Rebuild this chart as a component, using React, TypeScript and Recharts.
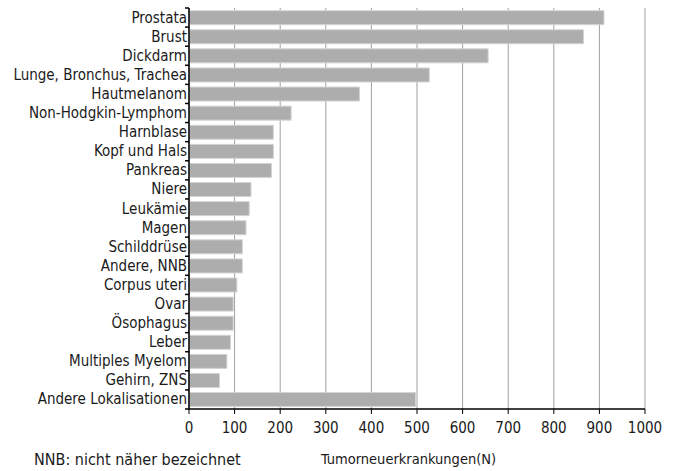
import React from 'react';
import { BarChart, Bar, XAxis, YAxis, CartesianGrid } from 'recharts';

const sites: string[] = [
  'Prostata',
  'Brust',
  'Dickdarm',
  'Lunge, Bronchus, Trachea',
  'Hautmelanom',
  'Non-Hodgkin-Lymphom',
  'Harnblase',
  'Kopf und Hals',
  'Pankreas',
  'Niere',
  'Leukämie',
  'Magen',
  'Schilddrüse',
  'Andere, NNB',
  'Corpus uteri',
  'Ovar',
  'Ösophagus',
  'Leber',
  'Multiples Myelom',
  'Gehirn, ZNS',
  'Andere Lokalisationen',
];

const cases: number[] = [
  910, 865, 656, 527, 374, 224, 185, 185, 181, 136, 132,
  125, 117, 117, 105, 97, 97, 91, 83, 67, 497,
];

const xTicks: number[] = [0, 100, 200, 300, 400, 500, 600, 700, 800, 900, 1000];

const data = sites.map((name, i) => ({ name, value: cases[i] }));

const W = 673;
const H = 471;
const M = { top: 8, right: 28, bottom: 36, left: 0 };
const X_AXIS_H = 26;
const Y_AXIS_W = 189;
const FONT = '"DejaVu Sans Condensed", "Open Sans", sans-serif';

const plotH = H - M.top - M.bottom - X_AXIS_H;
const band = plotH / sites.length;

// label at band centre, tick mark at the lower band edge
const CategoryTick: React.FC<any> = ({ x, y, payload }) => {
  return (
    <g>
      <text x={x - 2} y={y} dy={5} textAnchor="end" fontSize={15} fill="#1a1a1a" fontFamily={FONT}>
        {payload.value}
      </text>
      <line x1={x - 4} x2={x} y1={y + band / 2} y2={y + band / 2} stroke="#000" strokeWidth={1.5} />
      {payload.index === 0 && (
        <line x1={x - 4} x2={x} y1={y - band / 2} y2={y - band / 2} stroke="#000" strokeWidth={1.5} />
      )}
    </g>
  );
};

const App: React.FC = () => {
  return (
    <div style={{ position: 'absolute', left: 0, top: 0, width: W, height: H, background: '#fff' }}>
      <BarChart
        width={W}
        height={H}
        data={data}
        layout="vertical"
        margin={M}
        barCategoryGap="14%"
      >
        <CartesianGrid horizontal={false} stroke="#a0a0a0" strokeWidth={1} />
        <XAxis
          type="number"
          domain={[0, 1000]}
          ticks={xTicks}
          interval={0}
          height={X_AXIS_H}
          axisLine={{ stroke: '#000', strokeWidth: 1.5 }}
          tickLine={{ stroke: '#000', strokeWidth: 1 }}
          tickSize={5}
          tickMargin={8}
          tick={{ fontSize: 15, fill: '#1a1a1a', fontFamily: FONT }}
        />
        <YAxis
          type="category"
          dataKey="name"
          width={Y_AXIS_W}
          interval={0}
          tickLine={false}
          tickSize={0}
          tickMargin={0}
          axisLine={{ stroke: '#000', strokeWidth: 1.5 }}
          tick={<CategoryTick />}
        />
        <Bar dataKey="value" fill="#adadae" stroke="#d4d4d4" strokeWidth={1} isAnimationActive={false} />
      </BarChart>
      <div
        style={{
          position: 'absolute',
          left: 34,
          top: 450,
          fontFamily: FONT,
          fontSize: 16,
          color: '#1a1a1a',
          whiteSpace: 'nowrap',
        }}
      >
        NNB: nicht näher bezeichnet
      </div>
      <div
        style={{
          position: 'absolute',
          left: 321,
          top: 451,
          fontFamily: FONT,
          fontSize: 14.5,
          color: '#1a1a1a',
          whiteSpace: 'nowrap',
        }}
      >
        Tumorneuerkrankungen(N)
      </div>
    </div>
  );
};

export default App;
